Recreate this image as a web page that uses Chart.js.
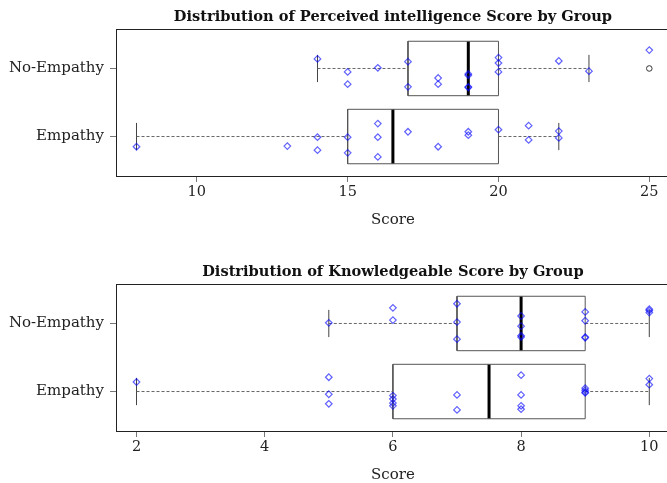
<!DOCTYPE html>
<html><head><meta charset="utf-8">
<script src="https://cdn.jsdelivr.net/npm/chart.js@4/dist/chart.umd.min.js"></script>
<style>
html,body{margin:0;padding:0;width:667px;height:483px;overflow:hidden;background:#fff;}
canvas{position:absolute;left:0;}
</style></head><body>
<canvas id="c1" width="675" height="241" style="top:0;width:675px;height:241px"></canvas>
<canvas id="c2" width="675" height="241" style="top:255px;width:675px;height:241px"></canvas>
<script>
// ---------- data ----------
const groups = ['Empathy', 'No-Empathy'];

// Perceived intelligence
const piTitle = 'Distribution of Perceived intelligence Score by Group';
const piTicks = [10, 15, 20, 25];
const piEmpathyScores = [8, 13, 14, 14, 15, 15, 16, 16, 16, 17, 18, 19, 19, 20, 21, 21, 22, 22];
const piEmpathyJitter = [-0.15, -0.14, -0.01, -0.20, -0.01, -0.24, 0.19, -0.01, -0.30, 0.07, -0.15, 0.07, 0.02, 0.10, 0.16, -0.05, 0.08, -0.02];
const piNoEmpathyScores = [14, 15, 15, 16, 17, 17, 18, 18, 19, 19, 19, 19, 20, 20, 20, 22, 23, 25];
const piNoEmpathyJitter = [0.14, -0.05, -0.23, 0.01, 0.10, -0.27, -0.14, -0.23, -0.08, -0.10, -0.27, -0.28, 0.16, 0.08, -0.05, 0.11, -0.04, 0.27];
// [lower whisker, Q1, median, Q3, upper whisker]
const piEmpathyBox = [8, 15, 16.5, 20, 22];
const piNoEmpathyBox = [14, 17, 19, 20, 23];
const piEmpathyOutliers = [];
const piNoEmpathyOutliers = [25];

// Knowledgeable
const knTitle = 'Distribution of Knowledgeable Score by Group';
const knTicks = [2, 4, 6, 8, 10];
const knEmpathyScores = [2, 5, 5, 5, 6, 6, 6, 6, 7, 7, 8, 8, 8, 8, 9, 9, 9, 9, 10, 10];
const knEmpathyJitter = [0.14, 0.21, -0.04, -0.18, -0.06, -0.11, -0.17, -0.21, -0.05, -0.27, 0.24, -0.05, -0.21, -0.26, 0.05, 0.02, -0.01, -0.02, 0.19, 0.10];
const knNoEmpathyScores = [5, 6, 6, 7, 7, 7, 8, 8, 8, 8, 9, 9, 9, 9, 10, 10, 10];
const knNoEmpathyJitter = [0.01, 0.23, 0.05, 0.29, 0.02, -0.23, 0.11, -0.04, -0.18, -0.20, 0.17, 0.04, -0.20, -0.21, 0.21, 0.19, 0.16];
const knEmpathyBox = [2, 6, 7.5, 9, 10];
const knNoEmpathyBox = [5, 7, 8, 9, 10];
const knEmpathyOutliers = [];
const knNoEmpathyOutliers = [];

// ---------- drawing ----------
const FONT = '"DejaVu Serif", "Liberation Serif", serif';
const BOXW = 0.4, STAPLE = 0.2;

function lineDs(pts, opts) {
  return Object.assign({
    type: 'scatter', data: pts, showLine: true, pointRadius: 0, pointHoverRadius: 0,
    borderColor: '#555', borderWidth: 1, fill: false, tension: 0, order: 2
  }, opts || {});
}

function groupDatasets(pos, box, scores, jitter, outliers) {
  const [lo, q1, med, q3, hi] = box;
  const ds = [];
  ds.push(lineDs([{x: lo, y: pos}, {x: q1, y: pos}], {borderDash: [3, 2], borderColor: '#666'}));
  ds.push(lineDs([{x: q3, y: pos}, {x: hi, y: pos}], {borderDash: [3, 2], borderColor: '#666'}));
  ds.push(lineDs([{x: lo, y: pos - STAPLE}, {x: lo, y: pos + STAPLE}], {borderColor: '#444'}));
  ds.push(lineDs([{x: hi, y: pos - STAPLE}, {x: hi, y: pos + STAPLE}], {borderColor: '#444'}));
  ds.push(lineDs([{x: q1, y: pos - BOXW}, {x: q3, y: pos - BOXW}, {x: q3, y: pos + BOXW}, {x: q1, y: pos + BOXW}, {x: q1, y: pos - BOXW}], {borderColor: '#555'}));
  ds.push(lineDs([{x: med, y: pos - BOXW}, {x: med, y: pos + BOXW}], {borderColor: '#000', borderWidth: 3}));
  if (outliers.length) {
    ds.push({type: 'scatter', data: outliers.map(v => ({x: v, y: pos})), pointStyle: 'circle', pointRadius: 2.8,
      borderColor: '#333', backgroundColor: 'rgba(0,0,0,0)', borderWidth: 1, order: 1});
  }
  ds.push({type: 'scatter', data: scores.map((v, i) => ({x: v, y: pos + jitter[i]})), pointStyle: 'rectRot', pointRadius: 3.3,
    borderColor: 'rgba(0,0,255,0.62)', backgroundColor: 'rgba(0,0,0,0)', borderWidth: 1.2, order: 0});
  return ds;
}

const decorPlugin = {
  id: 'decor',
  afterDraw(chart, args, opts) {
    const {ctx, chartArea: a} = chart;
    ctx.save();
    ctx.strokeStyle = '#222';
    ctx.lineWidth = 1;
    ctx.strokeRect(Math.round(a.left) + 0.5, Math.round(a.top) + 0.5, a.right - a.left, a.bottom - a.top);
    ctx.fillStyle = '#111';
    ctx.font = 'bold 14.6px ' + FONT;
    ctx.textAlign = 'center';
    ctx.textBaseline = 'middle';
    ctx.fillText(opts.text, (a.left + a.right) / 2, a.top - 12);
    ctx.restore();
  }
};

function makeChart(id, title, ticks, empBox, noBox, empScores, empJit, noScores, noJit, empOut, noOut) {
  const all = empScores.concat(noScores, empOut, noOut, empBox, noBox);
  const mn = Math.min(...all), mx = Math.max(...all);
  const pad = (mx - mn) * 0.04;
  const datasets = groupDatasets(1, empBox, empScores, empJit, empOut)
    .concat(groupDatasets(2, noBox, noScores, noJit, noOut));
  return new Chart(document.getElementById(id), {
    type: 'scatter',
    data: {datasets},
    plugins: [decorPlugin],
    options: {
      responsive: false, maintainAspectRatio: false, animation: false, events: [], devicePixelRatio: 1,
      layout: {padding: {top: 29, right: 1.5, left: 0, bottom: 0}},
      plugins: {legend: {display: false}, tooltip: {enabled: false}, title: {display: false}, decor: {text: title}},
      scales: {
        x: {
          type: 'linear', position: 'bottom', min: mn - pad, max: mx + pad,
          afterBuildTicks: s => { s.ticks = ticks.map(v => ({value: v})); },
          afterFit: s => { s.height = 65; },
          grid: {display: true, drawOnChartArea: false, drawTicks: true, tickLength: 6, color: '#777'},
          border: {display: false},
          ticks: {color: '#222', font: {family: FONT, size: 14.5}, padding: 2, maxRotation: 0},
          title: {display: true, text: 'Score', color: '#222', font: {family: FONT, size: 15}, padding: {top: 4, bottom: 12}}
        },
        y: {
          type: 'linear', position: 'left', min: 0.42, max: 2.58,
          afterBuildTicks: s => { s.ticks = [{value: 1}, {value: 2}]; },
          afterFit: s => { s.width = 116; },
          grid: {display: true, drawOnChartArea: false, drawTicks: true, tickLength: 6, color: '#777'},
          border: {display: false},
          ticks: {color: '#222', font: {family: FONT, size: 15}, padding: 6, callback: v => groups[Math.round(v) - 1]}
        }
      }
    }
  });
}

makeChart('c1', piTitle, piTicks, piEmpathyBox, piNoEmpathyBox, piEmpathyScores, piEmpathyJitter, piNoEmpathyScores, piNoEmpathyJitter, piEmpathyOutliers, piNoEmpathyOutliers);
makeChart('c2', knTitle, knTicks, knEmpathyBox, knNoEmpathyBox, knEmpathyScores, knEmpathyJitter, knNoEmpathyScores, knNoEmpathyJitter, knEmpathyOutliers, knNoEmpathyOutliers);
</script>
</body></html>
